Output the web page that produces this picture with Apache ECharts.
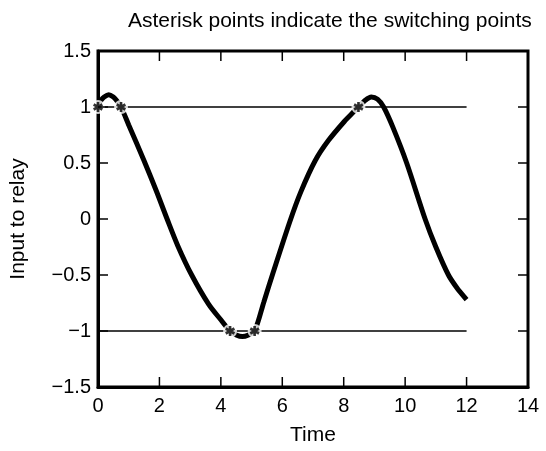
<!DOCTYPE html>
<html>
<head>
<meta charset="utf-8">
<script src="https://cdn.jsdelivr.net/npm/echarts@6/dist/echarts.min.js"></script>
<style>html,body{margin:0;padding:0;background:#fff;}#c{width:546px;height:451px;}</style>
</head>
<body>
<div id="c"></div>
<script>
var timeVals = [0, 0.1, 0.2, 0.35, 0.5, 0.6, 0.75, 1.0, 1.5, 1.9, 2.25, 2.6, 3.05, 3.6, 4.0, 4.3, 4.5, 4.7, 4.9, 5.1, 5.4, 5.7, 6.25, 6.6, 7.07, 7.5, 8.05, 8.3, 8.48, 8.7, 8.9, 9.1, 9.3, 9.6, 10.05, 10.65, 11.0, 11.41, 11.7, 12.0];
var inputVals = [1, 1.06, 1.09, 1.11, 1.09, 1.06, 1.0, 0.84, 0.52, 0.25, 0.0, -0.24, -0.5, -0.76, -0.9, -1.0, -1.035, -1.05, -1.035, -1.0, -0.74, -0.48, -0.02, 0.24, 0.52, 0.7, 0.88, 0.95, 1.0, 1.06, 1.09, 1.07, 1.0, 0.82, 0.5, 0.0, -0.25, -0.5, -0.62, -0.72];
var switchTimes = [0, 0.75, 4.3, 5.1, 8.48];
var switchVals = [1, 1, -1, -1, 1];
var thresholdUpper = [[0, 1], [12, 1]];
var thresholdLower = [[0, -1], [12, -1]];
var xTickVals = [2, 4, 6, 8, 10, 12];
var yTickVals = [-1, -0.5, 0, 0.5, 1];

var X_MIN = 0, X_MAX = 14, Y_MIN = -1.5, Y_MAX = 1.5;
var curve = timeVals.map(function (t, i) { return [t, inputVals[i]]; });
var stars = switchTimes.map(function (t, i) { return [t, switchVals[i]]; });
var asterisk = 'path://M-1.3,-5L1.3,-5L1.3,5L-1.3,5Z M3.68,-3.626L4.98,-1.374L-3.68,3.626L-4.98,1.374Z M4.98,1.374L3.68,3.626L-4.98,-1.374L-3.68,-3.626Z';
var font = 'Liberation Sans';
var TICK = 10;
function fmtY(v) {
  var s = String(Math.round(v * 10) / 10);
  return s.replace('-', '\u2212');
}
function axisLineOn() { return { show: true, onZero: false, lineStyle: { color: '#000', width: 3 } }; }

var chart = echarts.init(document.getElementById('c'));
chart.setOption({
  animation: false,
  backgroundColor: '#fff',
  title: {
    text: 'Asterisk points indicate the switching points',
    left: 123, top: 6,
    textStyle: { fontFamily: font, fontSize: 21, fontWeight: 'normal', color: '#000' }
  },
  grid: { left: 98, right: 18, top: 51, bottom: 63, show: true, borderColor: '#000', borderWidth: 3 },
  xAxis: [{
    type: 'value', min: X_MIN, max: X_MAX, interval: 2, position: 'bottom',
    name: 'Time', nameLocation: 'middle', nameGap: 38,
    nameTextStyle: { fontFamily: font, fontSize: 21, color: '#000' },
    axisLine: axisLineOn(),
    axisTick: { show: false },
    axisLabel: { fontFamily: font, fontSize: 20, color: '#000', margin: 9 },
    splitLine: { show: false }
  }],
  yAxis: [{
    type: 'value', min: Y_MIN, max: Y_MAX, interval: 0.5, position: 'left',
    name: 'Input to relay', nameLocation: 'middle', nameGap: 69,
    nameTextStyle: { fontFamily: font, fontSize: 21, color: '#000' },
    axisLine: axisLineOn(),
    axisTick: { show: false },
    axisLabel: { fontFamily: font, fontSize: 20, color: '#000', margin: 7, formatter: fmtY },
    splitLine: { show: false }
  }],
  series: [
    { type: 'line', data: thresholdUpper, symbol: 'none', z: 2, lineStyle: { color: '#000', width: 1.5 } },
    { type: 'line', data: thresholdLower, symbol: 'none', z: 2, lineStyle: { color: '#000', width: 1.5 } },
    { type: 'line', data: curve, symbol: 'none', smooth: 0.3, z: 3, lineStyle: { color: '#000', width: 5 } },
    { type: 'scatter', data: stars, symbol: 'circle', symbolSize: 14, z: 11, itemStyle: { color: '#fff' } },
    { type: 'scatter', data: stars, symbol: asterisk, symbolSize: 10, z: 12, itemStyle: { color: '#000' } }
  ]
});

// Inward tick marks on all four sides, positioned through the chart's own scales.
var gfx = [];
function tick(x1, y1, x2, y2) {
  gfx.push({ type: 'line', z: 100, silent: true,
    shape: { x1: x1, y1: y1, x2: x2, y2: y2 },
    style: { stroke: '#000', lineWidth: 1.5 } });
}
xTickVals.forEach(function (v) {
  var b = chart.convertToPixel({ gridIndex: 0 }, [v, Y_MIN]);
  var t = chart.convertToPixel({ gridIndex: 0 }, [v, Y_MAX]);
  tick(b[0], b[1], b[0], b[1] - TICK);
  tick(t[0], t[1], t[0], t[1] + TICK);
});
yTickVals.forEach(function (v) {
  var l = chart.convertToPixel({ gridIndex: 0 }, [X_MIN, v]);
  var r = chart.convertToPixel({ gridIndex: 0 }, [X_MAX, v]);
  tick(l[0], l[1], l[0] + TICK, l[1]);
  tick(r[0], r[1], r[0] - TICK, r[1]);
});
chart.setOption({ graphic: { elements: gfx } });
</script>
</body>
</html>
